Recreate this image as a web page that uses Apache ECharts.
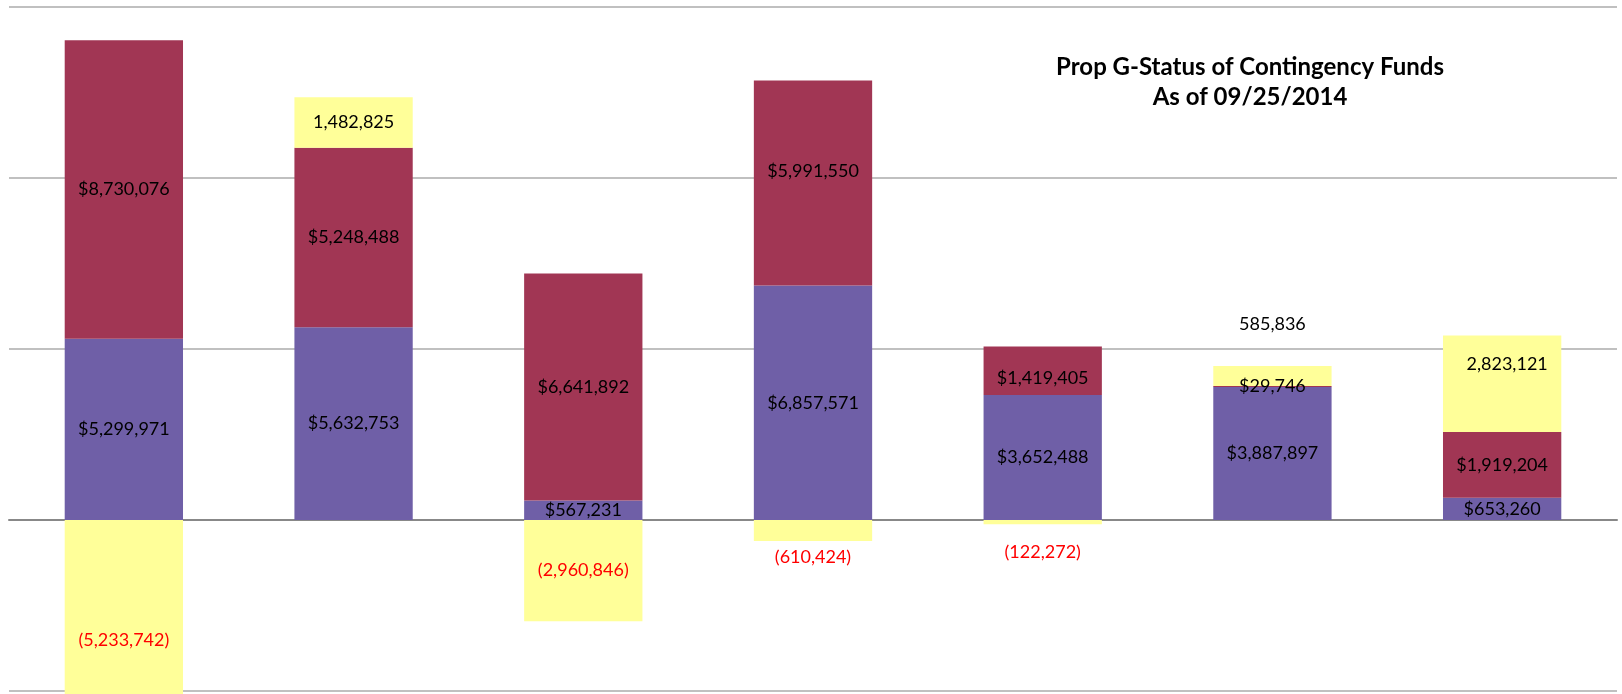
<!DOCTYPE html>
<html>
<head>
<meta charset="utf-8">
<script src="https://cdn.jsdelivr.net/npm/echarts@6/dist/echarts.min.js"></script>
<style>
html,body{margin:0;padding:0;background:#fff;}
#chart{width:1622px;height:694px;}
</style>
</head>
<body>
<div id="chart"></div>
<script>
const categories = ['P1','P2','P3','P4','P5','P6','P7'];
const purpleValues = [5299971, 5632753, 567231, 6857571, 3652488, 3887897, 653260];
const redValues    = [8730076, 5248488, 6641892, 5991550, 1419405, 29746, 1919204];
const yellowValues = [-5233742, 1482825, -2960846, -610424, -122272, 585836, 2823121];
const yTicks = [-5000000, 0, 5000000, 10000000, 15000000];

const FONT = 'Lato';
function fmt(v){ return Math.abs(v).toString().replace(/\B(?=(\d{3})+(?!\d))/g, ','); }

// per-bar label tweaks (style only)
const redLabelTweaks = {3:{offset:[0,-12]}, 4:{offset:[0,7]}};
const yellowLabelTweaks = {
  0:{offset:[0,31]},
  3:{position:'bottom', distance:7},
  4:{position:'bottom', distance:19},
  5:{position:'top', distance:33},
  6:{offset:[5,-20]}
};

function items(values, tweaks){
  return values.map((v,i)=>{
    const t = tweaks && tweaks[i];
    return t ? {value:v, label:t} : v;
  });
}

const baseLabel = {show:true, position:'inside', fontFamily:FONT, fontSize:18, color:'#000'};

const chart = echarts.init(document.getElementById('chart'));
chart.setOption({
  animation:false,
  title:{
    text:'Prop G-Status of Contingency Funds\nAs of 09/25/2014',
    left:1245, top:47, textAlign:'center',
    textStyle:{fontFamily:FONT, fontWeight:'bold', fontSize:24, lineHeight:30, color:'#000'}
  },
  grid:{left:9, right:5, top:7, bottom:3, containLabel:false},
  xAxis:{
    type:'category', data:categories,
    axisLabel:{show:false}, axisTick:{show:false},
    axisLine:{show:true, onZero:true, lineStyle:{color:'#888', width:2}}
  },
  yAxis:{
    type:'value', min:yTicks[0], max:yTicks[yTicks.length-1], interval:5000000,
    axisLabel:{show:false}, axisTick:{show:false}, axisLine:{show:false},
    splitLine:{show:true, lineStyle:{color:'#ababab', width:1.5}}
  },
  series:[
    {
      name:'Purple', type:'bar', stack:'s', barWidth:'51.5%',
      itemStyle:{color:'#6f5fa7'},
      label:Object.assign({}, baseLabel, {formatter:p=>'$'+fmt(p.value)}),
      data:items(purpleValues)
    },
    {
      name:'Red', type:'bar', stack:'s',
      itemStyle:{color:'#a13654'},
      label:Object.assign({}, baseLabel, {formatter:p=>'$'+fmt(p.value)}),
      data:items(redValues, redLabelTweaks)
    },
    {
      name:'Yellow', type:'bar', stack:'s', clip:false,
      itemStyle:{color:'#ffff99'},
      label:Object.assign({}, baseLabel, {
        formatter:p=> p.value<0 ? '{neg|('+fmt(p.value)+')}' : fmt(p.value),
        rich:{neg:{color:'#ff0000', fontFamily:FONT, fontSize:18}}
      }),
      data:items(yellowValues, yellowLabelTweaks)
    }
  ]
});
</script>
</body>
</html>
